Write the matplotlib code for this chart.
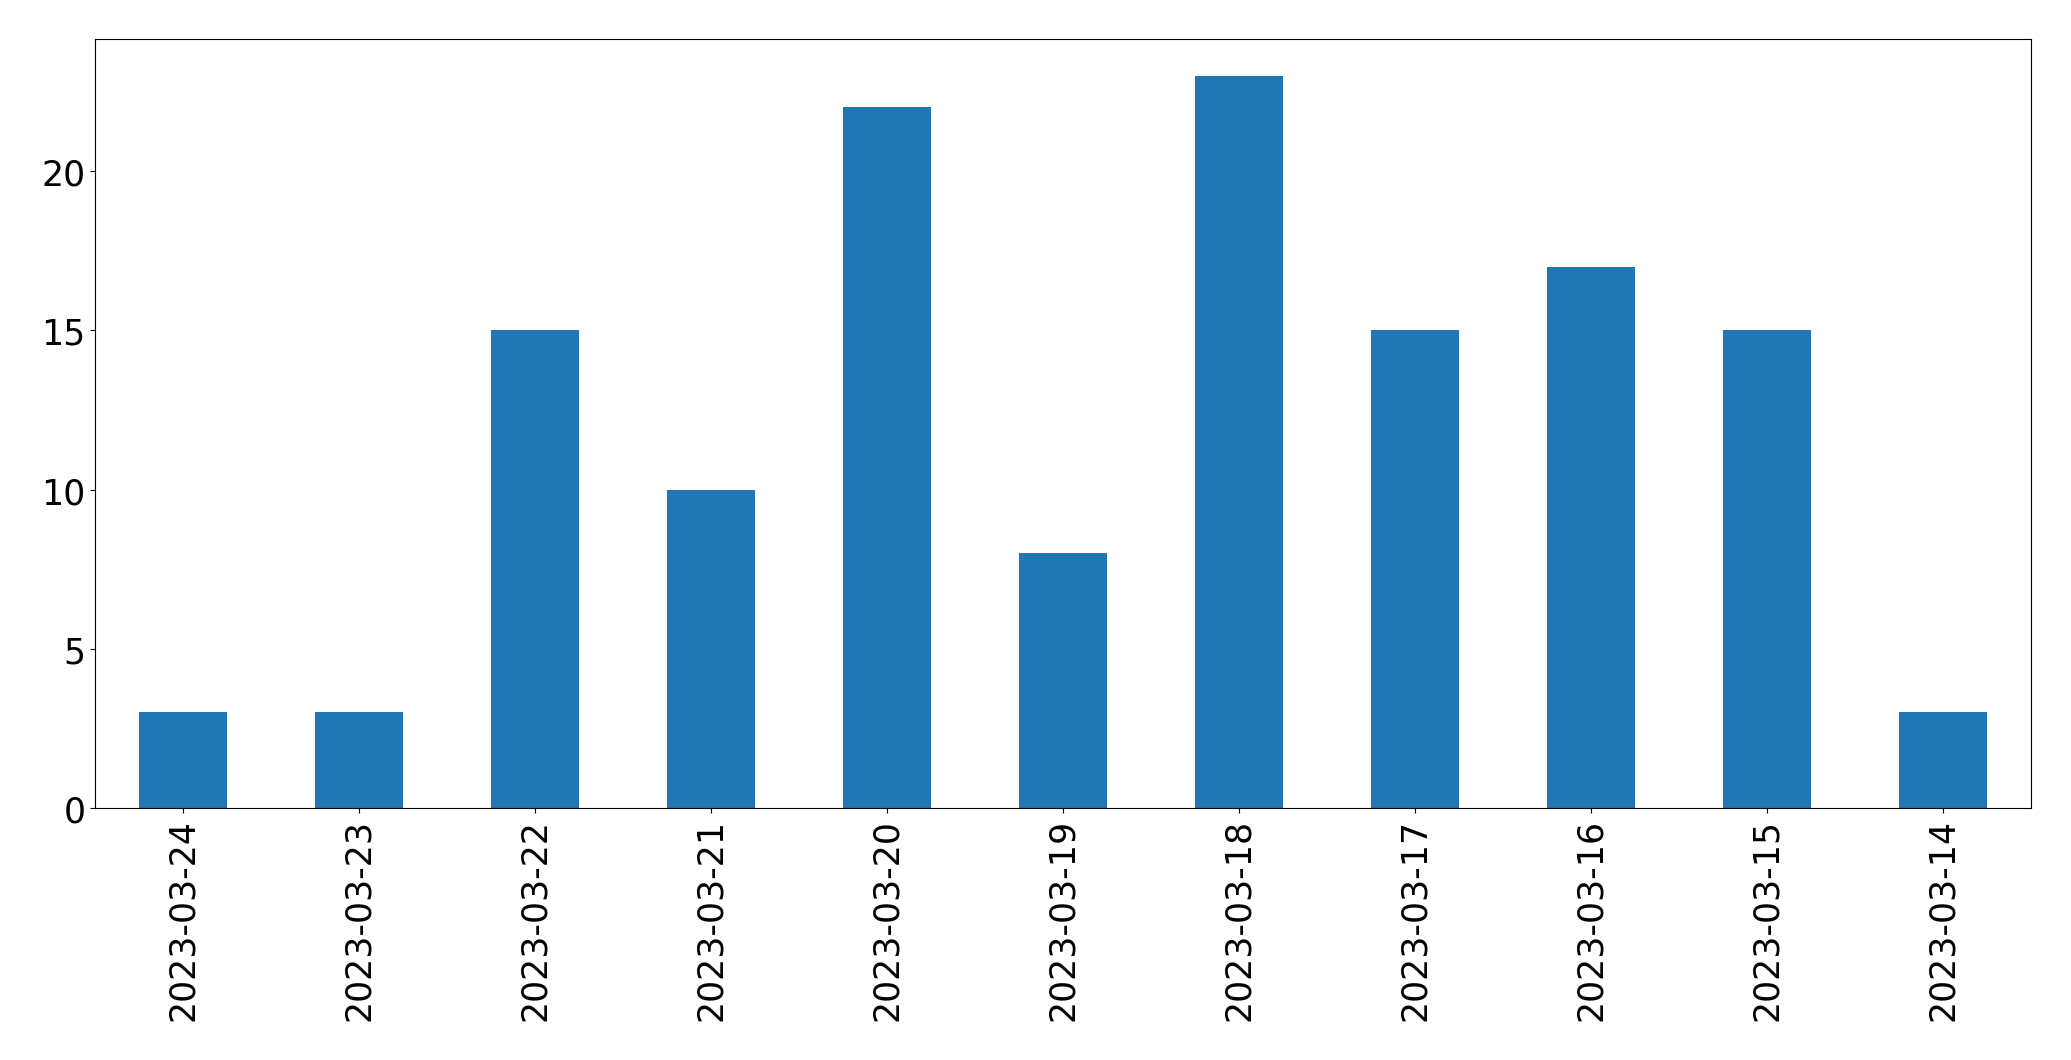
import pandas as pd
import matplotlib
matplotlib.use('Agg')
import matplotlib.pyplot as plt

# Daily counts, newest first
dates = ['2023-03-24', '2023-03-23', '2023-03-22', '2023-03-21', '2023-03-20',
         '2023-03-19', '2023-03-18', '2023-03-17', '2023-03-16', '2023-03-15',
         '2023-03-14']
counts = [3, 3, 15, 10, 22, 8, 23, 15, 17, 15, 3]

s = pd.Series(counts, index=dates)

fig, ax = plt.subplots(figsize=(20.71, 10.6099), dpi=100)
s.plot(kind='bar', ax=ax, color='#1f77b4', fontsize=25)
ax.tick_params(axis='x', labelrotation=90)

plt.subplots_adjust(left=0.0459, right=0.9807, top=0.9623, bottom=0.2375)
plt.savefig('out.png', dpi=100)
